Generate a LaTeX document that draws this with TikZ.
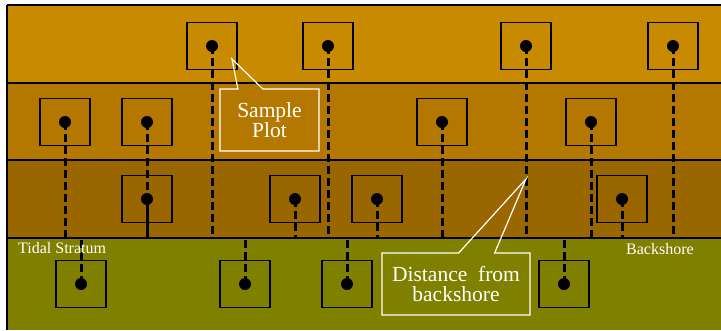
\documentclass[tikz,border=0pt]{standalone}
\usepackage{fontspec}
\setmainfont{Liberation Serif}
\usetikzlibrary{shapes.callouts, calc}
\definecolor{bandtop}{HTML}{C88A00}
\definecolor{bandmid}{HTML}{B47800}
\definecolor{bandlow}{HTML}{996600}
\definecolor{tidal}{HTML}{808000}

\begin{document}
\begin{tikzpicture}[x=1pt, y=-1pt,
  plotbox/.style={draw=black, line width=1.4pt, minimum width=50pt, minimum height=47pt, inner sep=0pt},
  drop/.style={line width=3pt, dash pattern=on 8pt off 4pt},
  callbox/.style={rectangle callout, draw=white, line width=1.2pt, text=white, align=center, font=\fontsize{21.5}{20}\selectfont},
  lbl/.style={text=white, font=\fontsize{16}{16}\selectfont, inner sep=0pt}]
  \useasboundingbox (0,0) rectangle (721,330);

  % Strata
  \fill[bandtop] (7,5) rectangle (721,83);
  \fill[bandmid] (7,83) rectangle (721,160);
  \fill[bandlow] (7,160) rectangle (721,238);
  \fill[tidal] (7,238) rectangle (721,330);
  \foreach \y in {5,83,160,238}
    \draw[line width=1.4pt] (7,\y) -- (721,\y);
  \draw[line width=1.4pt] (7,5) -- (7,330);
  \coordinate (shore) at (0,238);

  % Sample plots
  \foreach \n/\x/\y in {a1/212/46, a2/328/46, a3/526/46, a4/673/46,
                        b1/65/122, b2/147/122, b3/442/122, b4/591/122,
                        c1/147/199, c2/295/199, c3/377/199, c4/622/199,
                        d1/81/284, d2/245/284, d3/347/284, d4/564/284} {
    \node[plotbox] (\n) at (\x,\y) {};
  }

  % Distance lines
  \foreach \n in {a1,a2,a3,a4,b1,b3,b4,c2,c3,c4,d1,d2,d3,d4}
    \draw[drop] (\n.center) -- (\n.center |- shore);
  \draw[drop] (b2.center) -- (c1.center);
  \draw[line width=3pt] (c1.center) -- (c1.center |- shore);
  \foreach \n in {a1,a2,a3,a4,b1,b2,b3,b4,c1,c2,c3,c4,d1,d2,d3,d4}
    \fill (\n.center) circle (6pt);

  % Callouts
  \node[callbox, minimum width=99pt, minimum height=62pt,
        callout absolute pointer={(232,59)}, callout pointer width=25pt]
        (sample) at (269.5,120) {Sample\\Plot};
  \node[callbox, minimum width=148pt, minimum height=62pt,
        callout absolute pointer={(526,179)}, callout pointer width=36pt]
        (dist) at (456,284) {Distance~~from\\backshore};

  % Labels
  \node[lbl, anchor=base west] (tidlbl) at (18,253) {Tidal Stratum};
  \node[lbl, anchor=base west] (backlbl) at (626,254) {Backshore};
\end{tikzpicture}
\end{document}
